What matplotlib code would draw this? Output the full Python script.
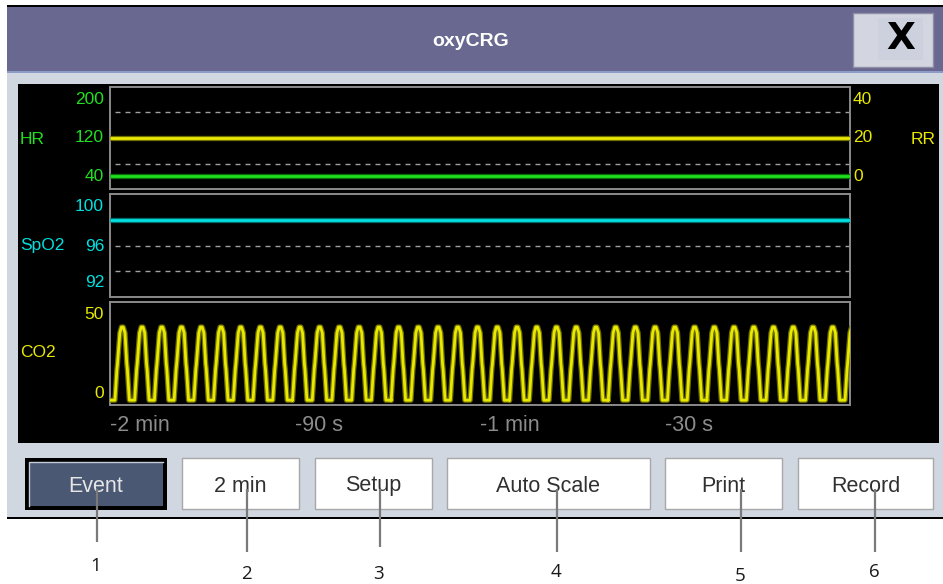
import numpy as np
import matplotlib
matplotlib.use('Agg')
import matplotlib.pyplot as plt
from matplotlib.patches import Rectangle

# ---- data ----
trend_time = [-120, 0]            # s, trend window
hr_trend = [60, 60]               # bpm
rr_trend = [20, 20]               # rpm
spo2_trend = [98, 98]             # %

hr_scale = [40, 120, 200]
rr_scale = [0, 20, 40]
spo2_scale = [92, 96, 100]
co2_scale = [0, 50]
hr_grid = [80, 120, 160]
spo2_grid = [94, 96, 98]

# one CO2 breath as seen on screen (phase of breath, mmHg)
co2_phase = [0.0, 0.10, 0.13, 0.25, 0.33, 0.42, 0.51, 0.60, 0.63, 0.73, 1.0]
co2_value = [0, 16, 19, 35, 38, 38, 35, 19, 16, 0, 0]
n_breaths = 38
breath_period = 3.2               # s
first_breath = -119.2             # s

time_ticks = [-120, -90, -60, -30]
time_labels = ['-2 min', '-90 s', '-1 min', '-30 s']

button_labels = ['Event', '2 min', 'Setup', 'Auto Scale', 'Print', 'Record']
callout_numbers = ['1', '2', '3', '4', '5', '6']

# ---- colours / fonts ----
GREEN = '#1fe01f'
YELLOW = '#e8e800'
CYAN = '#00e0e0'
GRID = '#a0a0a0'
FRAME = '#8a8a8a'
REG = ['Liberation Sans', 'DejaVu Sans']
LBL = 12.5

W, H = 943, 584
fig = plt.figure(figsize=(W / 100, H / 100), dpi=100)
fig.patch.set_facecolor('white')

# background axes in pixel coordinates for the dialog chrome
bg = fig.add_axes([0, 0, 1, 1])
bg.set_xlim(0, W)
bg.set_ylim(H, 0)
bg.axis('off')


def rect(x0, y0, x1, y1, fc, ec='none', lw=0, z=1):
    bg.add_patch(Rectangle((x0, y0), x1 - x0, y1 - y0, facecolor=fc,
                           edgecolor=ec, linewidth=lw, zorder=z))


rect(7, 5, 943, 519, '#d1d7e1')
rect(7, 5, 943, 7, 'black')
rect(7, 7, 943, 71, '#696890')
rect(7, 71, 943, 73, '#8c9cc6')
rect(7, 517, 943, 519, 'black')
rect(18, 84, 939, 443, 'black')

# title + close button
bg.text(471, 41, 'oxyCRG', color='white', fontsize=14, fontweight='bold',
        family=REG, ha='center', va='center')
rect(853, 13, 933, 67, '#d3d6e0', ec='#8e8ea4', lw=1, z=2)
rect(878, 18, 923, 60, '#cdd1de', z=2)
bg.text(901, 39, 'X', color='black', fontsize=27, fontweight='bold',
        family=['DejaVu Sans'], ha='center', va='center', zorder=3)

# buttons
btn_x = [(25, 167), (182, 299), (315, 432), (447, 650), (665, 782), (798, 933)]
for i, lab in enumerate(button_labels):
    x0, x1 = btn_x[i]
    if i == 0:
        rect(x0, 458, x1, 510, 'black', z=2)
        rect(x0 + 4, 462, x1 - 4, 506, '#4a5873', z=2)
        bg.plot([x0 + 4, x0 + 4, x1 - 4], [506, 462, 462], color='#c8ccd8',
                lw=1, zorder=3)
        tc = '#e6e6e6'
    else:
        rect(x0, 458, x1, 509, 'white', ec='#a8a8a8', lw=1, z=2)
        tc = '#303030'
    bg.text((x0 + x1) / 2, 486, lab, color=tc, fontsize=15.5, family=REG,
            ha='center', va='center', zorder=4)

# callouts
call_x = [97, 247, 380, 557, 741, 875]
call_end = [542, 552, 547, 552, 552, 552]
num_y = [566, 574, 574, 572, 576, 572]
for i, num in enumerate(callout_numbers):
    bg.plot([call_x[i], call_x[i]], [489, call_end[i]], color='#7a7a7a',
            lw=1.6, zorder=5, solid_capstyle='butt')
    bg.text(call_x[i] - 1, num_y[i], num, color='#1a1a1a', fontsize=13.5,
            family=['Open Sans', 'DejaVu Sans'], ha='center', va='center')


def px_axes(x0, y0, x1, y1):
    a = fig.add_axes([x0 / W, 1 - y1 / H, (x1 - x0) / W, (y1 - y0) / H])
    a.set_facecolor('black')
    a.set_xlim(-120, 0)
    a.set_xticks([])
    a.set_yticks([])
    for s in a.spines.values():
        s.set_color(FRAME)
        s.set_linewidth(1.4)
    return a


def glow_line(a, x, y, col, dark):
    a.plot(x, y, color=dark, lw=3.8, solid_capstyle='butt', zorder=3)
    a.plot(x, y, color=col, lw=2.0, solid_capstyle='butt', zorder=4)


def dashes(a, vals):
    for v in vals:
        a.axhline(v, color=GRID, lw=1.0, linestyle=(3.6, (3.6, 3.6)), zorder=2)


def scale_labels(a, vals, fracs, col, side='left'):
    for v, f in zip(vals, fracs):
        if side == 'left':
            a.text(-0.008, f, str(v), transform=a.transAxes, ha='right',
                   va='center', color=col, fontsize=LBL, family=REG)
        else:
            a.text(1.004, f, str(v), transform=a.transAxes, ha='left',
                   va='center', color=col, fontsize=LBL, family=REG)


fr3 = [0.12, 0.5, 0.875]

# HR / RR
hr_ax = px_axes(110, 87, 850, 189)
hr_ax.set_ylim(40, 200)
dashes(hr_ax, hr_grid)
glow_line(hr_ax, trend_time, hr_trend, GREEN, '#0a6a0a')
rr_ax = hr_ax.twinx()
rr_ax.set_ylim(rr_scale[0], rr_scale[-1])
rr_ax.set_yticks([])
for s in rr_ax.spines.values():
    s.set_visible(False)
glow_line(rr_ax, trend_time, rr_trend, YELLOW, '#6e6e00')
scale_labels(hr_ax, hr_scale, fr3, GREEN)
scale_labels(hr_ax, rr_scale, fr3, YELLOW, side='right')
hr_ax.text(-0.1216, 0.49, 'HR', transform=hr_ax.transAxes, ha='left',
           va='center', color=GREEN, fontsize=LBL, family=REG)
hr_ax.text(1.1162, 0.49, 'RR', transform=hr_ax.transAxes, ha='right',
           va='center', color=YELLOW, fontsize=LBL, family=REG)

# SpO2
sp_ax = px_axes(110, 194, 850, 297)
sp_ax.set_ylim(spo2_scale[0], spo2_scale[-1])
dashes(sp_ax, spo2_grid)
glow_line(sp_ax, trend_time, spo2_trend, CYAN, '#006a6a')
scale_labels(sp_ax, spo2_scale, [0.14, 0.49, 0.874], CYAN)
sp_ax.text(-0.1216, 0.5, 'SpO2', transform=sp_ax.transAxes, ha='left',
           va='center', color=CYAN, fontsize=LBL, family=REG)

# CO2 waveform
t = [-120.0]
v = [0.0]
for k in range(n_breaths):
    for p, c in zip(co2_phase, co2_value):
        t.append(first_breath + k * breath_period + p * breath_period)
        v.append(c)
co2_ax = px_axes(110, 302, 850, 405)
co2_ax.set_ylim(-2.5, 51)
glow_line(co2_ax, t, v, YELLOW, '#6e6e00')
scale_labels(co2_ax, co2_scale[::-1], [0.875, 0.11], YELLOW)
co2_ax.text(-0.1216, 0.51, 'CO2', transform=co2_ax.transAxes, ha='left',
            va='center', color=YELLOW, fontsize=LBL, family=REG)
co2_ax.set_xticks(time_ticks)
co2_ax.set_xticklabels(time_labels, ha='left', color='#8c8c8c',
                       fontsize=15.5, family=REG)
co2_ax.tick_params(axis='x', length=0, pad=7)

plt.savefig('out.png', dpi=100, facecolor='white')
